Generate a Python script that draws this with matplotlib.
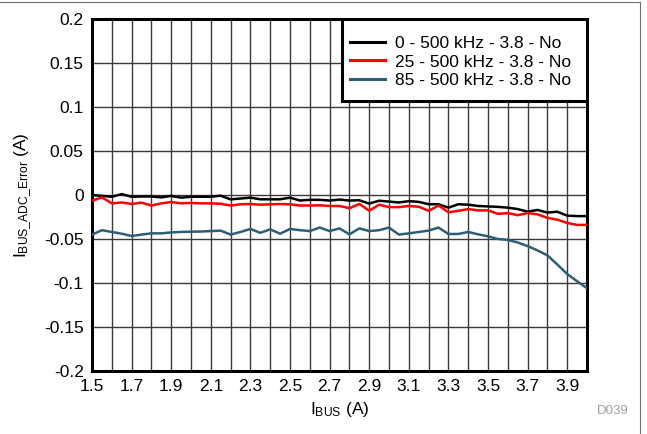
import numpy as np
import matplotlib.pyplot as plt
from matplotlib.lines import Line2D
from matplotlib.patches import Rectangle

plt.rcParams['font.family'] = ['Liberation Sans', 'DejaVu Sans']
plt.rcParams['mathtext.fontset'] = 'custom'
plt.rcParams['mathtext.rm'] = 'Liberation Sans'

# IBUS points (A), 0.05 A step
ibus = np.round(np.arange(1.5, 4.0001, 0.05), 2)

err_0c = [0.000, -0.001, -0.002, 0.001, -0.002, -0.0017, -0.0017, -0.0027, -0.001, -0.003,
          -0.002, -0.002, -0.002, -0.0008, -0.005, -0.004, -0.003, -0.0049, -0.0049, -0.0049,
          -0.003, -0.0063, -0.0055, -0.0055, -0.0063, -0.0052, -0.0063, -0.006, -0.0098, -0.0065,
          -0.0075, -0.0085, -0.007, -0.0078, -0.0105, -0.0105, -0.0144, -0.0105, -0.011, -0.0125,
          -0.013, -0.0135, -0.0144, -0.016, -0.0189, -0.017, -0.020, -0.019, -0.0235, -0.024,
          -0.024]
err_25c = [-0.0065, -0.0027, -0.0095, -0.0085, -0.0102, -0.0087, -0.012, -0.0095, -0.008, -0.0095,
           -0.009, -0.0095, -0.0095, -0.010, -0.012, -0.0105, -0.0102, -0.011, -0.0106, -0.0102,
           -0.0106, -0.012, -0.012, -0.0117, -0.0125, -0.0125, -0.015, -0.0102, -0.0178, -0.011,
           -0.0138, -0.0138, -0.0125, -0.0133, -0.018, -0.012, -0.0197, -0.018, -0.016, -0.0175,
           -0.0175, -0.0215, -0.0205, -0.023, -0.0205, -0.022, -0.026, -0.028, -0.0318, -0.034,
           -0.034]
err_85c = [-0.045, -0.040, -0.042, -0.044, -0.0466, -0.045, -0.0436, -0.0436, -0.0425, -0.042,
           -0.0417, -0.0415, -0.041, -0.0405, -0.045, -0.042, -0.0386, -0.043, -0.039, -0.044,
           -0.0386, -0.040, -0.041, -0.037, -0.041, -0.038, -0.0447, -0.038, -0.041, -0.040,
           -0.037, -0.045, -0.0436, -0.042, -0.0405, -0.037, -0.0443, -0.0443, -0.042, -0.0447,
           -0.047, -0.050, -0.051, -0.054, -0.058, -0.063, -0.0686, -0.079, -0.0898, -0.098,
           -0.106]

labels = ['0 - 500 kHz - 3.8 - No', '25 - 500 kHz - 3.8 - No', '85 - 500 kHz - 3.8 - No']
colors = ['#000000', '#ff0000', '#2c5e7a']

fs = 12.5

fig = plt.figure(figsize=(6.47, 4.34), dpi=100)
ax = fig.add_axes([0.1422, 0.1452, 0.7651, 0.811])

for y, c, lab in zip([err_0c, err_25c, err_85c], colors, labels):
    ax.plot(ibus, y, color=c, linewidth=1.8, label=lab, zorder=3)

ax.set_xlim(1.5, 4.0)
ax.set_ylim(-0.2, 0.2)
ax.set_xticks(np.arange(1.5, 3.91, 0.2))
ax.set_xticklabels([f'{v:.1f}' for v in np.arange(1.5, 3.91, 0.2)])
ax.set_xticks(np.arange(1.5, 4.01, 0.1), minor=True)
ax.set_yticks(np.arange(-0.2, 0.201, 0.05))
ax.set_yticklabels(['-0.2', '-0.15', '-0.1', '-0.05', '0', '0.05', '0.1', '0.15', '0.2'])
ax.grid(True, which='both', color='#3a3a3a', linewidth=1.0)
ax.tick_params(which='both', length=0, labelsize=fs, pad=6)

for s in ax.spines.values():
    s.set_linewidth(2.2)

ax.set_xlabel(r'$\mathregular{I_{BUS}}$ (A)', fontsize=fs, labelpad=4)
ax.set_ylabel(r'$\mathregular{I_{BUS\_ADC\_Error}}$ (A)', fontsize=fs, labelpad=7)

# legend box drawn separately so side and top padding can differ
box = Rectangle((0.505, 0.767), 0.495, 0.233, transform=ax.transAxes,
                facecolor='white', edgecolor='black', linewidth=2.2, zorder=4)
ax.add_patch(box)
leg = ax.legend(loc='center left', bbox_to_anchor=(0.521, 0.878), fontsize=fs,
                frameon=False, borderaxespad=0, borderpad=0, handlelength=2.0,
                handletextpad=0.6, labelspacing=0.2)
leg.set_zorder(5)
for h in leg.get_lines():
    h.set_linewidth(2.2)

fig.text(0.972, 0.045, 'D039', fontsize=9.5, color='#a0a0a0', ha='right')

# thin border at top and right of the picture
fig.add_artist(Line2D([0, 0.989], [0.995, 0.995], color='#707070', linewidth=0.8,
                      transform=fig.transFigure))
fig.add_artist(Line2D([0.989, 0.989], [0.0, 0.995], color='#707070', linewidth=0.8,
                      transform=fig.transFigure))

fig.savefig('out.png', dpi=100)
